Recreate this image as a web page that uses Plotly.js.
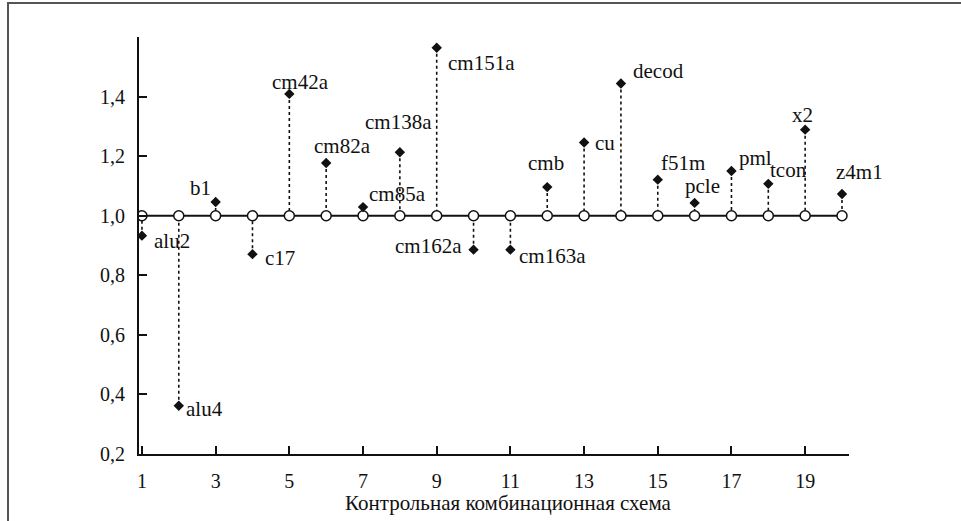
<!DOCTYPE html>
<html>
<head>
<meta charset="utf-8">
<script src="https://cdn.plot.ly/plotly-3.0.1.min.js"></script>
<style>
html,body{margin:0;padding:0;background:#fff;}
#wrap{position:relative;width:961px;height:521px;overflow:hidden;}
#chart{position:absolute;left:0;top:0;width:961px;height:521px;}
#bt{position:absolute;left:8px;top:2px;width:953px;height:2px;background:#555;}
#bl{position:absolute;left:7px;top:2px;width:2px;height:519px;background:#555;}
</style>
</head>
<body>
<div id="wrap"><div id="chart"></div><div id="bt"></div><div id="bl"></div></div>
<script>
// Data
var schemeIndex = [1,2,3,4,5,6,7,8,9,10,11,12,13,14,15,16,17,18,19,20];
var schemeNames = ["alu2","alu4","b1","c17","cm42a","cm82a","cm85a","cm138a","cm151a","cm162a",
                   "cm163a","cmb","cu","decod","f51m","pcle","pml","tcon","x2","z4m1"];
var epsD = [0.933,0.362,1.046,0.871,1.409,1.177,1.029,1.213,1.564,0.886,
            0.886,1.096,1.246,1.444,1.121,1.043,1.150,1.107,1.289,1.073];
var baseline = schemeIndex.map(function(){return 1.0;});
var yTickVals = [0.2,0.4,0.6,0.8,1.0,1.2,1.4,1.6];
var yTickText = ["0,2","0,4","0,6","0,8","1,0","1,2","1,4",""];
var xTickVals = [1,3,5,7,9,11,13,15,17,19];

// label offsets in pixels (dx right, dy down) - layout only
var labelDX = [30,26,-15,28,11,16,34,-1,45,-45,42,-1,21,38,25,8,24,20,-3,17];
var labelDY = [5,3,-14,4,-12,-17,-13,-30,15,-4,6,-24,1,-12,-17,-17,-13,-14,-15,-22];

var FONT = "Liberation Serif";

var stemX = [], stemY = [];
schemeIndex.forEach(function(x,i){ stemX.push(x,x,null); stemY.push(epsD[i],1.0,null); });

var traces = [
  {x: stemX, y: stemY, mode:'lines', line:{color:'#111', width:1.6, dash:'dot'}, hoverinfo:'skip', showlegend:false},
  {x: schemeIndex, y: baseline, mode:'lines+markers', line:{color:'#111', width:2},
   marker:{symbol:'circle', size:10, color:'#fff', line:{color:'#111', width:1.5}}, showlegend:false},
  {x: schemeIndex, y: epsD, mode:'markers', marker:{symbol:'diamond', size:8, color:'#111'}, showlegend:false}
];

var annotations = schemeNames.map(function(n,i){
  return {x: schemeIndex[i], y: epsD[i], xref:'x', yref:'y', text:n, showarrow:false,
          xanchor:'center', yanchor:'middle', xshift:labelDX[i], yshift:-labelDY[i],
          font:{family:FONT, size:21, color:'#111'}};
});
annotations.push({x:0.376, y:1.676, xref:'x', yref:'y', text:'ε<sub><i>D</i></sub>', showarrow:false,
  xanchor:'center', yanchor:'middle', font:{family:FONT, size:20, color:'#111'}});
annotations.push({x:0.52, y:-0.118, xref:'paper', yref:'paper', text:'Контрольная комбинационная схема',
  showarrow:false, xanchor:'center', yanchor:'middle', font:{family:FONT, size:21, color:'#111'}});

var layout = {
  width:961, height:521,
  margin:{l:139, r:112, t:37, b:67},
  paper_bgcolor:'#fff', plot_bgcolor:'#fff',
  showlegend:false,
  xaxis:{range:[0.92,20.19], tickvals:xTickVals, ticktext:xTickVals.map(String),
    ticks:'inside', ticklen:8, tickwidth:2, tickcolor:'#111', ticklabelstandoff:8,
    showline:true, linecolor:'#111', linewidth:2, showgrid:false, zeroline:false,
    tickfont:{family:FONT, size:20, color:'#111'}},
  yaxis:{range:[0.2,1.6], tickvals:yTickVals, ticktext:yTickText,
    ticks:'inside', ticklen:8, tickwidth:2, tickcolor:'#111', ticklabelstandoff:8,
    showline:true, linecolor:'#111', linewidth:2, showgrid:false, zeroline:false,
    tickfont:{family:FONT, size:20, color:'#111'}},
  annotations: annotations
};

Plotly.newPlot('chart', traces, layout, {displayModeBar:false, staticPlot:true});
</script>
</body>
</html>
